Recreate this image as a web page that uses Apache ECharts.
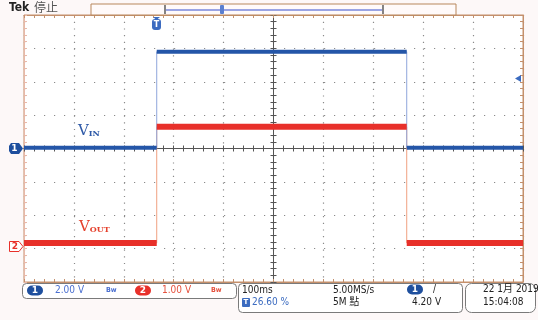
<!DOCTYPE html>
<html><head><meta charset="utf-8">
<script src="https://cdn.jsdelivr.net/npm/echarts@6/dist/echarts.min.js"></script>
<style>html,body{margin:0;padding:0;background:#fdf8f8}#c{width:538px;height:320px}</style>
</head><body><div id="c"></div>
<script>
// Time (ms from left edge of screen, 100 ms/div) and channel voltages
const timeMs = [0, 266, 266, 767, 767, 1000];
const vinVolts = [0.05, 0.05, 5.8, 5.8, 0.05, 0.05];   // CH1, 2.00 V/div
const voutVolts = [0.17, 0.17, 3.65, 3.65, 0.17, 0.17]; // CH2, 1.00 V/div
const ch1Range = [-8, 8];
const ch2Range = [-1, 7];
const timeRange = [0, 1000];

const pairs = (ys) => timeMs.map((t, i) => [t, ys[i]]);
const levels = (ys) => {
  const out = [];
  for (let i = 0; i < timeMs.length; i += 2) {
    out.push([timeMs[i], ys[i]], [timeMs[i + 1], ys[i + 1]]);
    if (i + 2 < timeMs.length) out.push([timeMs[i + 1], '-']);
  }
  return out;
};

const BLUE = '#2456a8', RED = '#e8302a', BORDER = '#c4906c';
const dotY = { color: '#8a8a8a', width: 1.2, type: [1.2, 8.8] };
const dotX = { color: '#8a8a8a', width: 1.2, type: [1.2, 5.5] };

function xAx(pos, offset, color, inside, len, extra) {
  return Object.assign({
    type: 'value', min: timeRange[0], max: timeRange[1], interval: 100, position: pos, offset: offset,
    axisLine: { show: true, onZero: false, lineStyle: { color: color, width: 1 } },
    axisTick: { show: true, inside: inside, length: len, lineStyle: { color: color } },
    minorTick: { show: true, splitNumber: 5, length: len, lineStyle: { color: color } },
    axisLabel: { show: false }, splitLine: { show: false }
  }, extra || {});
}
function yAx(pos, offset, range, interval, color, inside, len, extra) {
  return Object.assign({
    type: 'value', min: range[0], max: range[1], interval: interval, position: pos, offset: offset,
    axisLine: { show: true, onZero: false, lineStyle: { color: color, width: 1 } },
    axisTick: { show: true, inside: inside, length: len, lineStyle: { color: color } },
    minorTick: { show: true, splitNumber: 5, length: len, lineStyle: { color: color } },
    axisLabel: { show: false }, splitLine: { show: false }
  }, extra || {});
}

const chart = echarts.init(document.getElementById('c'), null, { renderer: 'canvas' });
const txt = (x, y, s, color, size, extra) => ({
  type: 'text', left: x, top: y, z: 100,
  style: Object.assign({ text: s, fill: color, fontSize: size || 10, fontFamily: 'DejaVu Sans Condensed, Liberation Sans, sans-serif' }, extra || {})
});
const pill = (x, y, label, color) => ([
  { type: 'rect', shape: { x: x, y: y, width: 16, height: 10, r: 5 }, style: { fill: color }, z: 100 },
  { type: 'text', x: x + 8, y: y + 5, z: 101, style: { text: label, fill: '#fff', fontSize: 9, fontWeight: 'bold', align: 'center', verticalAlign: 'middle', fontFamily: 'DejaVu Sans' } }
]);

chart.setOption({
  backgroundColor: '#fdf8f8',
  animation: false,
  grid: { left: 24, right: 15, top: 15, bottom: 38, show: true, backgroundColor: '#ffffff', borderColor: BORDER, borderWidth: 1 },
  xAxis: [
    xAx('bottom', 0, BORDER, true, 3, { splitLine: { show: true, lineStyle: dotX } }),
    xAx('top', 0, BORDER, true, 3),
    xAx('bottom', -133.5, '#555', false, 3),
    xAx('top', -133.5, '#555', false, 3)
  ],
  yAxis: [
    yAx('left', 0, ch1Range, 2, '#e8b8a8', true, 3, { splitLine: { show: true, lineStyle: dotY } }),
    yAx('right', 0, ch2Range, 1, BORDER, true, 3),
    yAx('left', -249.5, [-4, 4], 1, '#555', false, 3),
    yAx('right', -249.5, [-4, 4], 1, '#555', false, 3)
  ],
  series: [
    { type: 'line', xAxisIndex: 0, yAxisIndex: 1, data: pairs(voutVolts), symbol: 'none', lineStyle: { color: '#f0a080', width: 1 }, z: 3 },
    { type: 'line', xAxisIndex: 0, yAxisIndex: 0, data: pairs(vinVolts), symbol: 'none', lineStyle: { color: '#8fa6dc', width: 1 }, z: 3 },
    { type: 'line', xAxisIndex: 0, yAxisIndex: 1, data: levels(voutVolts), connectNulls: false, symbol: 'none', lineStyle: { color: RED, width: 6, cap: 'butt' }, z: 4 },
    { type: 'line', xAxisIndex: 0, yAxisIndex: 0, data: levels(vinVolts), connectNulls: false, symbol: 'none', lineStyle: { color: BLUE, width: 4, cap: 'butt' }, z: 5 }
  ],
  graphic: [
    // header
    txt(9, 2, 'Tek', '#222', 12, { fontWeight: 'bold', fontFamily: 'DejaVu Sans Condensed' }),
    txt(34, 1, '停止', '#555', 12, { fontFamily: 'Noto Sans CJK TC' }),
    { type: 'rect', shape: { x: 91, y: 4, width: 365, height: 11 }, style: { fill: '#fffafa', stroke: '#b8875c', lineWidth: 1 }, z: 90 },
    { type: 'line', shape: { x1: 166, y1: 10, x2: 382, y2: 10 }, style: { stroke: '#9aa4e4', lineWidth: 2 }, z: 91 },
    { type: 'line', shape: { x1: 165, y1: 5, x2: 165, y2: 14 }, style: { stroke: '#333', lineWidth: 1.2 }, z: 92 },
    { type: 'line', shape: { x1: 383, y1: 5, x2: 383, y2: 14 }, style: { stroke: '#333', lineWidth: 1.2 }, z: 92 },
    { type: 'rect', shape: { x: 220, y: 5, width: 4, height: 9, r: 1 }, style: { fill: '#5a7fd0' }, z: 92 },
    // trigger position marker
    { type: 'rect', shape: { x: 152, y: 19, width: 9, height: 11, r: 3 }, style: { fill: '#3b6bc0' }, z: 100 },
    { type: 'polygon', shape: { points: [[153, 17], [160, 17], [156.5, 20]] }, style: { fill: '#3b6bc0' }, z: 100 },
    { type: 'text', x: 156.5, y: 24.5, z: 101, style: { text: 'T', fill: '#fff', fontSize: 8, fontWeight: 'bold', align: 'center', verticalAlign: 'middle', fontFamily: 'DejaVu Sans' } },
    // trigger level arrow
    { type: 'polygon', shape: { points: [[515, 78.5], [521, 75], [521, 82]] }, style: { fill: '#3b6bc0' }, z: 100 },
    // channel markers
    { type: 'polygon', shape: { points: [[9, 146], [11, 143], [19, 143], [23, 148.5], [19, 154], [11, 154], [9, 151]] }, style: { fill: '#1e4f9e' }, z: 100 },
    { type: 'text', x: 14.5, y: 148.5, z: 101, style: { text: '1', fill: '#fff', fontSize: 9, fontWeight: 'bold', align: 'center', verticalAlign: 'middle', fontFamily: 'DejaVu Sans' } },
    { type: 'polygon', shape: { points: [[9.5, 241.5], [19, 241.5], [23, 246.5], [19, 251.5], [9.5, 251.5]] }, style: { fill: '#fff', stroke: RED, lineWidth: 1 }, z: 100 },
    { type: 'text', x: 15, y: 246.7, z: 101, style: { text: '2', fill: RED, fontSize: 9, fontWeight: 'bold', align: 'center', verticalAlign: 'middle', fontFamily: 'DejaVu Sans' } },
    // trace labels
    { type: 'text', left: 78, top: 124, z: 100, style: { text: '{v|V}{s|IN}', rich: { v: { fontSize: 15, fill: '#2f5aa8', fontFamily: 'DejaVu Serif' }, s: { fontSize: 8, fill: '#2f5aa8', fontFamily: 'DejaVu Serif', fontWeight: 'bold', padding: [4, 0, 0, 0] } } } },
    { type: 'text', left: 79, top: 220, z: 100, style: { text: '{v|V}{s|OUT}', rich: { v: { fontSize: 15, fill: '#e5402c', fontFamily: 'DejaVu Serif' }, s: { fontSize: 8, fill: '#e5402c', fontFamily: 'DejaVu Serif', fontWeight: 'bold', padding: [4, 0, 0, 0] } } } },
    // status boxes
    { type: 'rect', shape: { x: 22.5, y: 283.5, width: 214, height: 15, r: 4 }, style: { fill: '#fff', stroke: '#7a7a7a', lineWidth: 1 }, z: 90 },
    { type: 'rect', shape: { x: 238.5, y: 283.5, width: 224, height: 29, r: 4 }, style: { fill: '#fff', stroke: '#7a7a7a', lineWidth: 1 }, z: 90 },
    { type: 'rect', shape: { x: 465.5, y: 283.5, width: 70, height: 29, r: 6 }, style: { fill: '#fff', stroke: '#7a7a7a', lineWidth: 1 }, z: 90 },
    ...pill(27, 285.5, '1', '#1e4f9e'),
    txt(55, 285, '2.00 V', '#4a6fd0', 10),
    txt(106, 287, 'Bw', '#4a6fd0', 7, { fontWeight: 'bold' }),
    ...pill(135, 285.5, '2', RED),
    txt(162, 285, '1.00 V', '#e5503c', 10),
    txt(211, 287, 'Bw', '#e5503c', 7, { fontWeight: 'bold' }),
    txt(242, 285, '100ms', '#222', 10),
    { type: 'rect', shape: { x: 242, y: 298, width: 8, height: 9, r: 1 }, style: { fill: '#3b6bc0' }, z: 100 },
    { type: 'text', x: 246, y: 302.5, z: 101, style: { text: 'T', fill: '#fff', fontSize: 7, fontWeight: 'bold', align: 'center', verticalAlign: 'middle', fontFamily: 'DejaVu Sans' } },
    txt(252, 297, '26.60 %', '#3b6bc0', 10),
    txt(333, 285, '5.00MS/s', '#222', 10),
    txt(333, 297, '5M 點', '#222', 10, { fontFamily: 'DejaVu Sans Condensed, Noto Sans CJK TC' }),
    ...pill(407, 284.5, '1', '#1e4f9e'),
    txt(433, 284, '/', '#222', 10),
    txt(412, 297, '4.20 V', '#222', 10),
    txt(483, 284, '22 1月 2019', '#222', 10, { fontFamily: 'DejaVu Sans Condensed, Noto Sans CJK SC' }),
    txt(483, 297, '15:04:08', '#222', 10)
  ]
});
</script></body></html>
